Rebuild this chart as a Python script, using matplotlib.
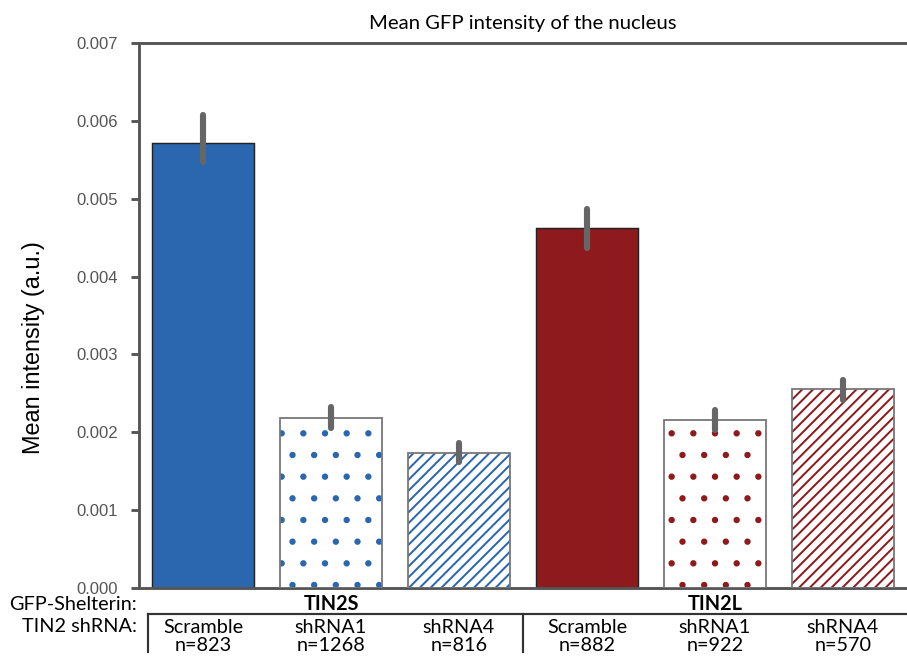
import matplotlib
matplotlib.use("Agg")
import matplotlib.pyplot as plt
from matplotlib import font_manager
from matplotlib.transforms import blended_transform_factory
import numpy as np

# bar data: mean nuclear GFP intensity with error range
groups = ['TIN2S', 'TIN2L']
shrna = ['Scramble', 'shRNA1', 'shRNA4', 'Scramble', 'shRNA1', 'shRNA4']
counts = [823, 1268, 816, 882, 922, 570]
means = [0.00572, 0.00218, 0.00173, 0.00462, 0.00216, 0.00256]
err_low = [0.00547, 0.00206, 0.00162, 0.00437, 0.00203, 0.00241]
err_high = [0.00607, 0.00232, 0.00186, 0.00487, 0.00229, 0.00267]

blue = '#2b67ae'
red = '#8e1a1e'
colors = [blue, blue, blue, red, red, red]
hatches = [None, '.', '////', None, '.', '////']

installed = {f.name for f in font_manager.fontManager.ttflist}
narrow = next((f for f in ['Liberation Sans Narrow', 'Lato', 'Open Sans'] if f in installed), 'DejaVu Sans')
plt.rcParams['font.family'] = ['Liberation Sans', 'DejaVu Sans']
plt.rcParams['hatch.linewidth'] = 1.1

DPI = 130
fig = plt.figure(figsize=(907 / DPI, 656 / DPI), dpi=DPI)
ax = fig.add_axes([139 / 907, 68 / 656, 768 / 907, 545 / 656])

x = np.arange(len(means))
for i in x:
    if hatches[i] is None:
        ax.bar(i, means[i], 0.8, color=colors[i], edgecolor='#222222', linewidth=0.8, zorder=2)
    else:
        ax.bar(i, means[i], 0.8, color='white', edgecolor=colors[i], hatch=hatches[i],
               linewidth=0, zorder=2)
        ax.bar(i, means[i], 0.8, fill=False, edgecolor='#777777', linewidth=1.0, zorder=3)

lines = ax.vlines(x, err_low, err_high, color='#666666', linewidth=3.4, zorder=4)
lines.set_capstyle('round')

ax.set_xlim(-0.5, 5.5)
ax.set_ylim(0, 0.007)
ax.set_yticks(np.arange(0, 0.0071, 0.001))
ax.set_yticklabels([f'{v:.3f}' for v in np.arange(0, 0.0071, 0.001)])
ax.set_xticks([])
for side in ['left', 'top', 'bottom']:
    ax.spines[side].set_color('#555555')
    ax.spines[side].set_linewidth(1.6)
ax.spines['right'].set_visible(False)
ax.tick_params(axis='y', length=4.5, width=1.6, color='#555555', labelcolor='#555555',
               labelsize=9.2, pad=7)

ax.set_title('Mean GFP intensity of the nucleus', family=narrow, fontsize=11.2, pad=8)
ax.set_ylabel('Mean intensity (a.u.)', fontsize=13)
ax.yaxis.set_label_coords(-0.122, 0.442)

# labels under the bars
tr = blended_transform_factory(ax.transData, ax.transAxes)
lab = dict(family=narrow, fontsize=11, ha='center', va='center', clip_on=False)
for k, g in enumerate(groups):
    ax.text(3 * k + 1, -0.029, g, transform=tr, fontweight='bold', **lab)
for i in x:
    ax.text(i, -0.072, shrna[i], transform=tr, **lab)
    ax.text(i, -0.106, f'n={counts[i]}', transform=tr, **lab)
ax.text(-0.003, -0.030, 'GFP-Shelterin:', transform=ax.transAxes, family=narrow,
        fontsize=11, ha='right', va='center')
ax.text(-0.003, -0.071, 'TIN2 shRNA:', transform=ax.transAxes, family=narrow,
        fontsize=11, ha='right', va='center')

# bracket lines separating the two groups
ax.plot([-0.43, 5.6], [-0.048, -0.048], transform=tr, color='#333333', lw=1.2, clip_on=False)
for xv in [-0.43, 2.5]:
    ax.plot([xv, xv], [-0.048, -0.118], transform=tr, color='#333333', lw=1.2, clip_on=False)

fig.savefig('out.png', dpi=DPI)
